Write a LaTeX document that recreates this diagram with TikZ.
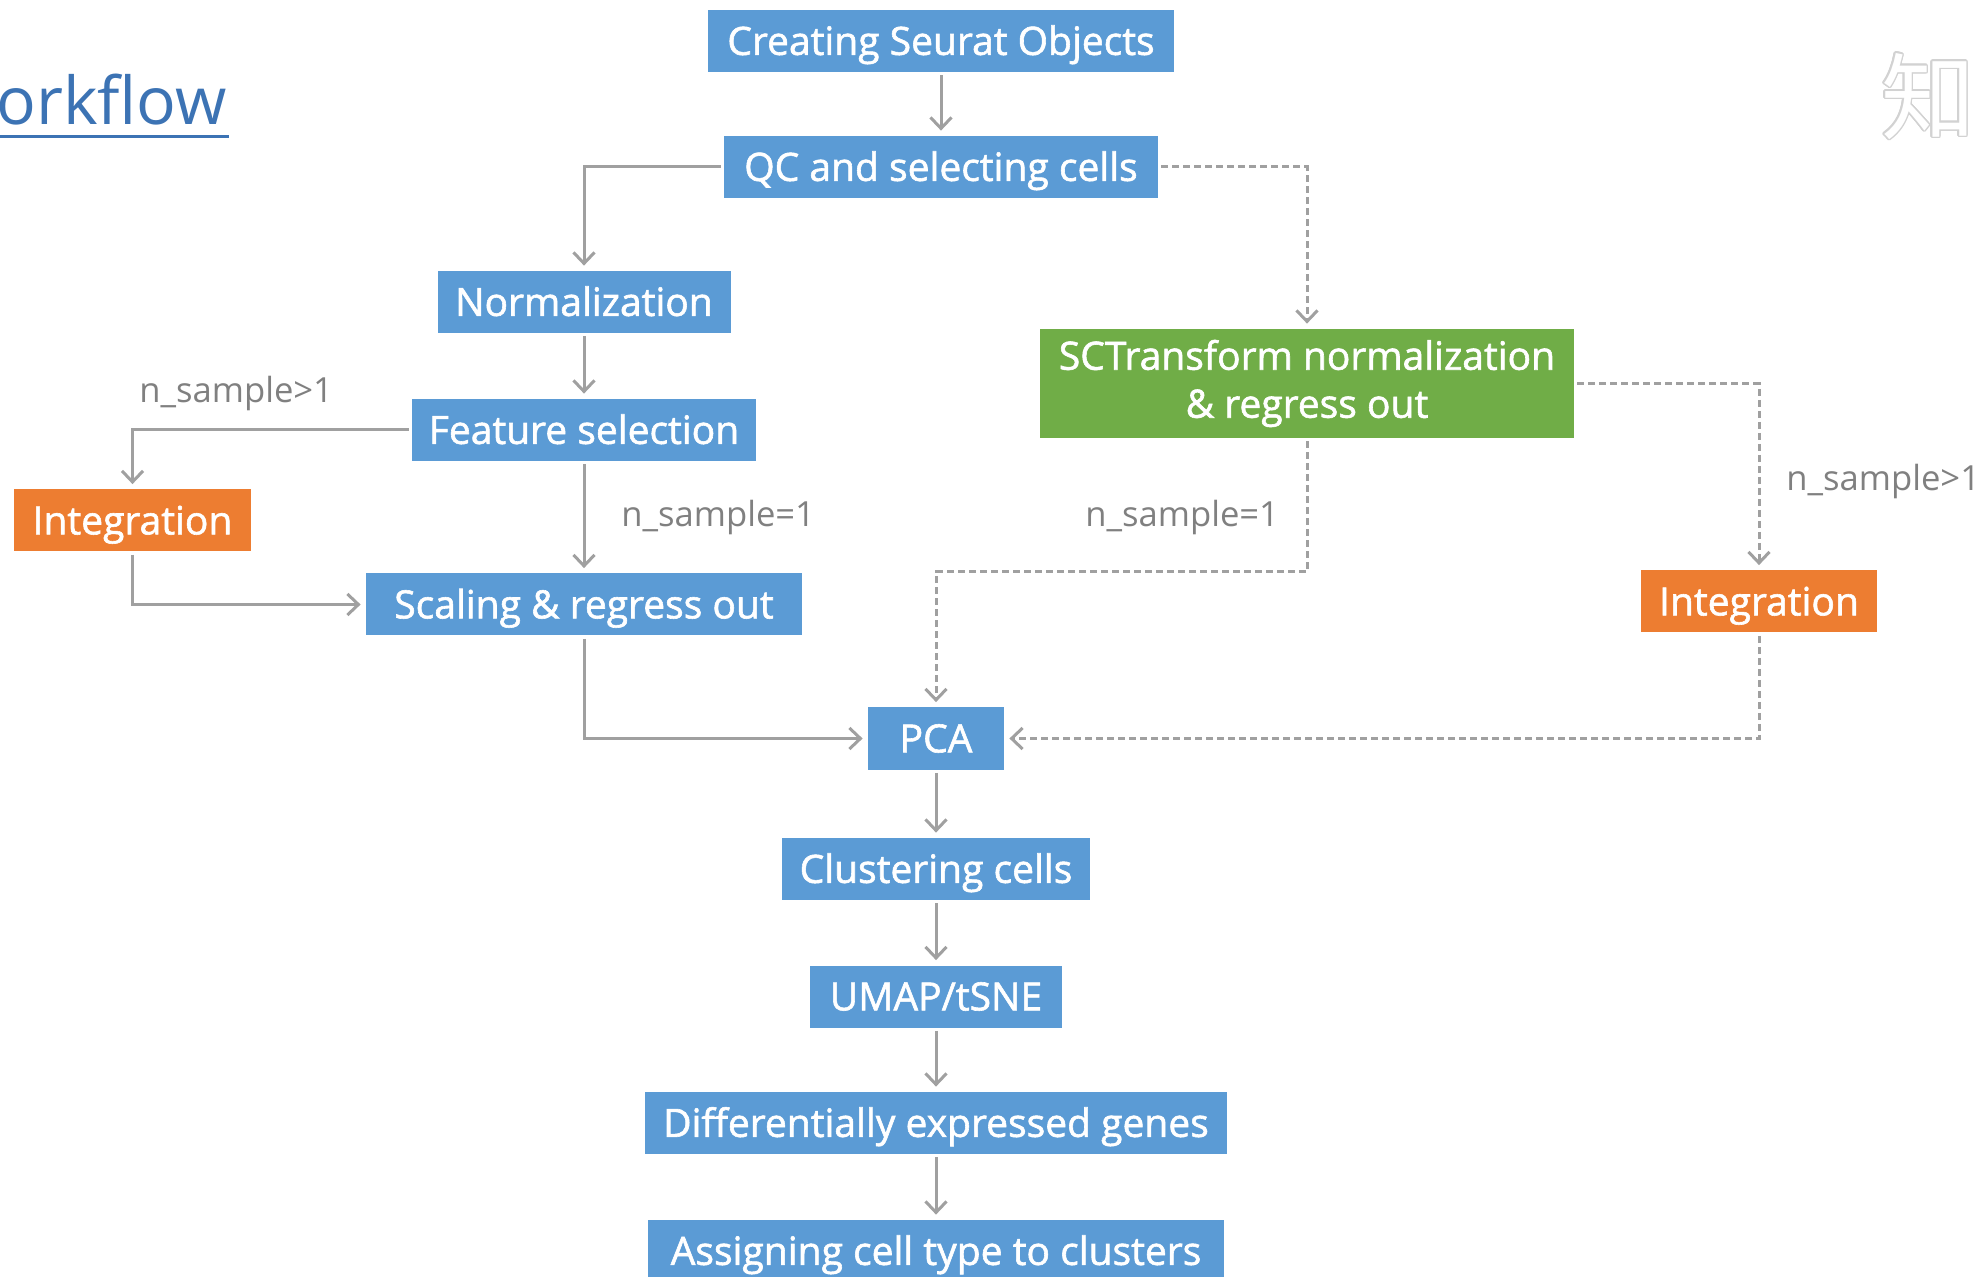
\documentclass[tikz,border=0pt]{standalone}
\usepackage{fontspec}
\setmainfont{Open Sans}
\newfontfamily\boxfont[FakeBold=1.5]{Open Sans}
\newfontfamily\cjk{Noto Sans CJK SC}
\usepackage{contour}
\usetikzlibrary{arrows.meta}
\definecolor{boxblue}{HTML}{5B9BD5}
\definecolor{boxgreen}{HTML}{70AD47}
\definecolor{boxorange}{HTML}{ED7D31}
\definecolor{linegray}{HTML}{A0A0A0}
\definecolor{labelgray}{HTML}{808080}
\definecolor{titleblue}{HTML}{3C73B4}
\begin{document}
\begin{tikzpicture}[x=0.5pt,y=-0.5pt,
  boxbase/.style={fill=boxblue, text=white, font=\boxfont\fontsize{19.5}{24}\selectfont,
    inner sep=0pt, minimum height=31pt, anchor=center},
  box/.style={boxbase, text height=13.9pt, text depth=0pt},
  conn/.style={draw=linegray, line width=1.5pt,
    -{Straight Barb[length=5.5pt,width=10.5pt]}, shorten >=2.5pt, shorten <=1.5pt},
  dconn/.style={conn, dash pattern=on 3.5pt off 2pt},
  lbl/.style={text=labelgray, font=\fontsize{17.3}{20}\selectfont, inner sep=0pt, anchor=base west}]
\useasboundingbox (0,0) rectangle (1986,1277);
\clip (0,0) rectangle (1986,1277);
\fill[white] (0,0) rectangle (1986,1277);

% title and watermark
\node[font=\fontsize{33}{38}\selectfont, text=titleblue, anchor=base east, inner sep=0pt] (title) at (227,125) {Workflow};
\draw[titleblue, line width=1.5pt] (-60,137) -- (229,137);
\node[font=\cjk\fontsize{47}{50}\selectfont, text=white, inner sep=0pt] (wm) at (1928,97) {\contourlength{0.7pt}\contour{gray!35}{知}};

% boxes
\node[box, minimum width=233pt] (create) at (941,41) {Creating Seurat Objects};
\node[box, minimum width=217pt] (qc) at (941,167) {QC and selecting cells};
\node[box, minimum width=146.5pt] (norm) at (584,302) {Normalization};
\node[box, minimum width=172pt] (feat) at (584,430) {Feature selection};
\node[box, fill=boxorange, minimum width=118.5pt] (intL) at (132.5,520.5) {Integration};
\node[box, minimum width=218pt] (scale) at (584,604.5) {Scaling \& regress out};
\node[boxbase, fill=boxgreen, minimum width=267pt, minimum height=54.5pt, align=center] (sct) at (1307,383.5) {SCTransform normalization\\ \& regress out};
\node[box, fill=boxorange, minimum width=118pt] (intR) at (1759,601.5) {Integration};
\node[box, minimum width=68pt] (pca) at (936,738.5) {PCA};
\node[box, minimum width=154pt] (clus) at (936,869) {Clustering cells};
\node[box, minimum width=126pt] (umap) at (936,996.5) {UMAP/tSNE};
\node[box, minimum width=291pt] (deg) at (936,1123) {Differentially expressed genes};
\node[box, minimum width=288pt] (assign) at (936,1251) {Assigning cell type to clusters};

% labels
\node[lbl] (l1) at (139,403) {n\_sample>1};
\node[lbl] (l2) at (621,527) {n\_sample=1};
\node[lbl] (l3) at (1085,527) {n\_sample=1};
\node[lbl] (l4) at (1786,491) {n\_sample>1};

% connectors
\coordinate (j1) at (1307,572);
\draw[conn] (create.south) -- (qc.north);
\draw[conn] (qc.west) -| (norm.north);
\draw[dconn] (qc.east) -| (sct.north);
\draw[conn] (norm.south) -- (feat.north);
\draw[conn] (feat.west) -| (intL.north);
\draw[conn] (feat.south) -- (scale.north);
\draw[conn] (intL.south) |- (scale.west);
\draw[conn] (scale.south) |- (pca.west);
\draw[dconn] (sct.south) -- (j1) -| (pca.north);
\draw[dconn] (sct.east) -| (intR.north);
\draw[dconn] (intR.south) |- (pca.east);
\draw[conn] (pca.south) -- (clus.north);
\draw[conn] (clus.south) -- (umap.north);
\draw[conn] (umap.south) -- (deg.north);
\draw[conn] (deg.south) -- (assign.north);
\end{tikzpicture}
\end{document}
